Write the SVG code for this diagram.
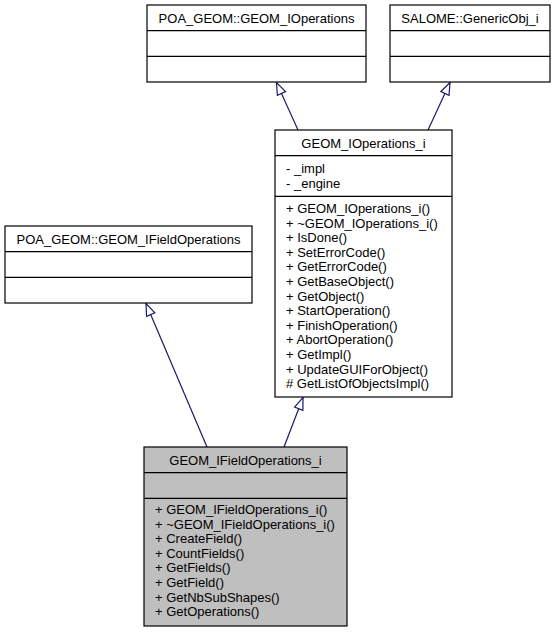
<svg xmlns="http://www.w3.org/2000/svg" width="555" height="632" viewBox="0 0 555 632">
<style>
.box{fill:#ffffff;stroke:#000000;stroke-width:1.2}
.cur{fill:#bfbfbf;stroke:#000000;stroke-width:1.2}
.div{stroke:#000000;stroke-width:1.2}
text{font-family:"Liberation Sans",Arial,Helvetica,sans-serif;font-size:13px;fill:#000000}
.t{text-anchor:middle}
.edge{fill:none;stroke:#191970;stroke-width:1.2}
</style>
<defs>
<marker id="inh" markerUnits="userSpaceOnUse" viewBox="-1 -1 15 11" refX="12.5" refY="4.5" markerWidth="15" markerHeight="11" orient="auto">
<path d="M0.5,0 L12.5,4.5 L0.5,9 Z" fill="#ffffff" stroke="#191970" stroke-width="1.2"/>
</marker>
</defs>
<g id="edges">
<path class="edge" d="M298,130 L276.5,82.5" marker-end="url(#inh)"/>
<path class="edge" d="M428,130 L450,82.5" marker-end="url(#inh)"/>
<path class="edge" d="M207,447 L146,303.5" marker-end="url(#inh)"/>
<path class="edge" d="M284,447 L303,397.5" marker-end="url(#inh)"/>
</g>
<g id="POA_GEOM_GEOM_IOperations">
<rect class="box" x="147" y="5" width="219" height="77"/>
<line class="div" x1="147" y1="30.7" x2="366" y2="30.7"/>
<line class="div" x1="147" y1="56.3" x2="366" y2="56.3"/>
<text class="t" x="256.5" y="22.5">POA_GEOM::GEOM_IOperations</text>
</g>
<g id="SALOME_GenericObj_i">
<rect class="box" x="390" y="5" width="160" height="77"/>
<line class="div" x1="390" y1="30.7" x2="550" y2="30.7"/>
<line class="div" x1="390" y1="56.3" x2="550" y2="56.3"/>
<text class="t" x="470" y="22.5">SALOME::GenericObj_i</text>
</g>
<g id="GEOM_IOperations_i">
<rect class="box" x="275" y="130" width="177" height="267"/>
<line class="div" x1="275" y1="155.7" x2="452" y2="155.7"/>
<line class="div" x1="275" y1="196.3" x2="452" y2="196.3"/>
<text class="t" x="363.5" y="147.5">GEOM_IOperations_i</text>
<text x="286" y="173">- _impl</text>
<text x="286" y="187.6">- _engine</text>
<text x="286" y="213">+ GEOM_IOperations_i()</text>
<text x="286" y="227.6">+ ~GEOM_IOperations_i()</text>
<text x="286" y="242.2">+ IsDone()</text>
<text x="286" y="256.8">+ SetErrorCode()</text>
<text x="286" y="271.4">+ GetErrorCode()</text>
<text x="286" y="286">+ GetBaseObject()</text>
<text x="286" y="300.6">+ GetObject()</text>
<text x="286" y="315.2">+ StartOperation()</text>
<text x="286" y="329.8">+ FinishOperation()</text>
<text x="286" y="344.4">+ AbortOperation()</text>
<text x="286" y="359">+ GetImpl()</text>
<text x="286" y="373.6">+ UpdateGUIForObject()</text>
<text x="286" y="388.2"># GetListOfObjectsImpl()</text>
</g>
<g id="POA_GEOM_GEOM_IFieldOperations">
<rect class="box" x="5" y="226" width="247" height="77"/>
<line class="div" x1="5" y1="251.7" x2="252" y2="251.7"/>
<line class="div" x1="5" y1="277.3" x2="252" y2="277.3"/>
<text class="t" x="128.5" y="243.5">POA_GEOM::GEOM_IFieldOperations</text>
</g>
<g id="GEOM_IFieldOperations_i">
<rect class="cur" x="144" y="447" width="203" height="179"/>
<line class="div" x1="144" y1="472.7" x2="347" y2="472.7"/>
<line class="div" x1="144" y1="498.3" x2="347" y2="498.3"/>
<text class="t" x="245.5" y="464.5">GEOM_IFieldOperations_i</text>
<text x="155" y="514">+ GEOM_IFieldOperations_i()</text>
<text x="155" y="528.6">+ ~GEOM_IFieldOperations_i()</text>
<text x="155" y="543.2">+ CreateField()</text>
<text x="155" y="557.8">+ CountFields()</text>
<text x="155" y="572.4">+ GetFields()</text>
<text x="155" y="587">+ GetField()</text>
<text x="155" y="601.6">+ GetNbSubShapes()</text>
<text x="155" y="616.2">+ GetOperations()</text>
</g>
</svg>
